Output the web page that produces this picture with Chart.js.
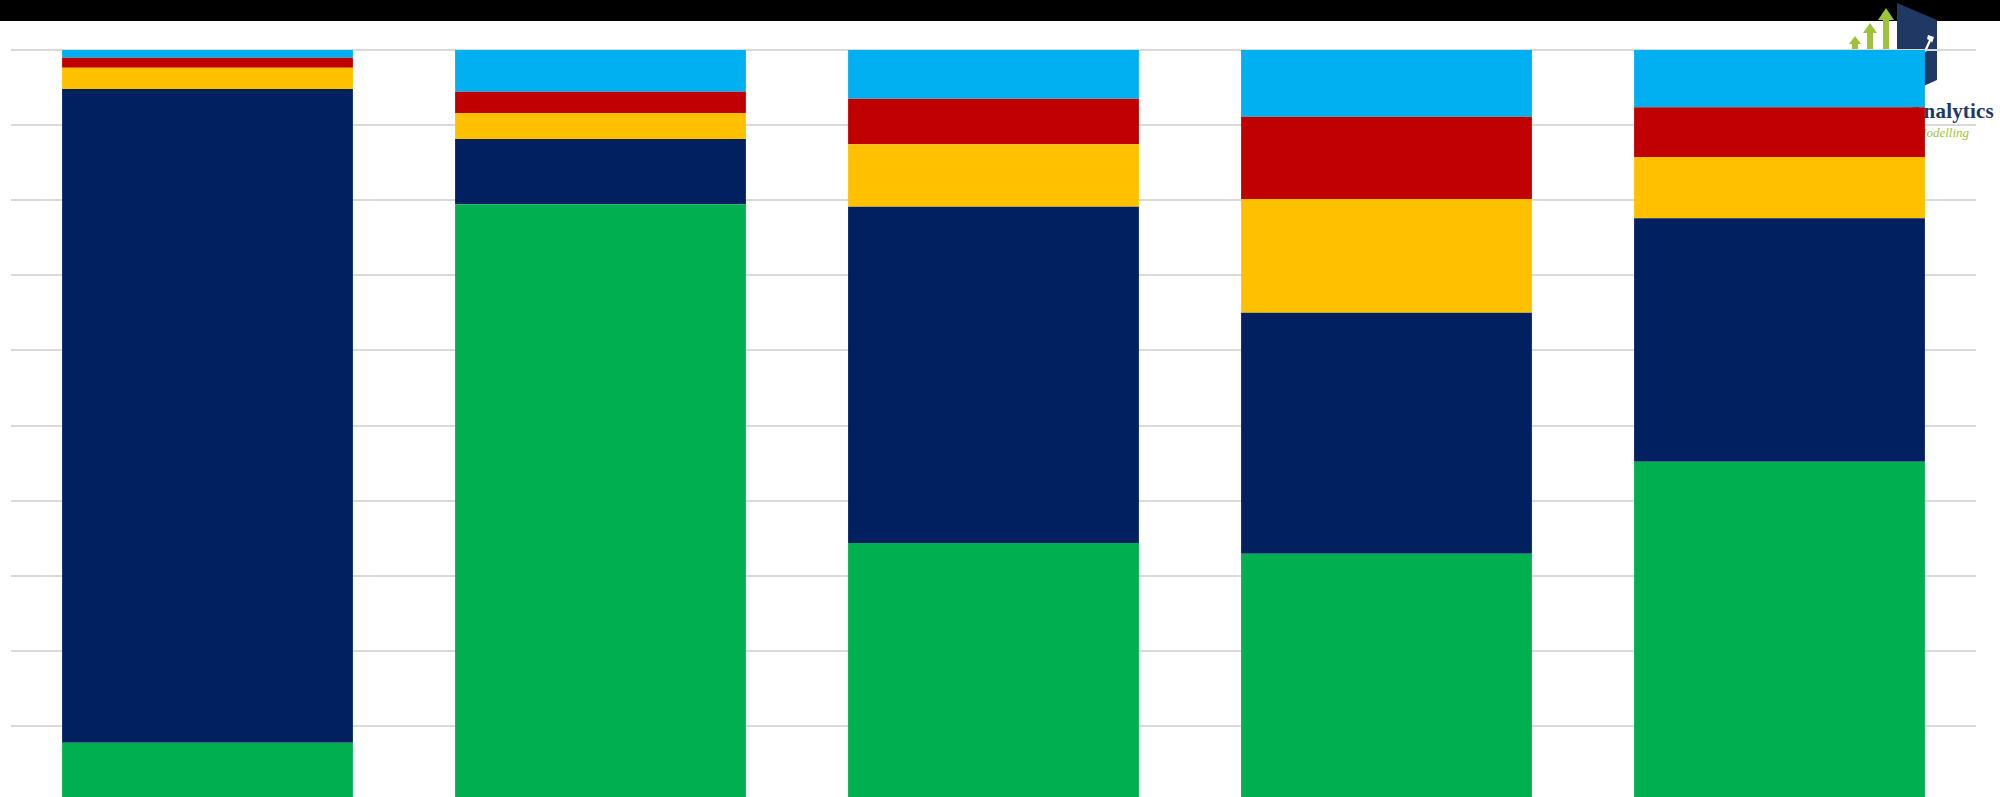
<!DOCTYPE html>
<html>
<head>
<meta charset="utf-8">
<script src="https://cdn.jsdelivr.net/npm/chart.js@4/dist/chart.umd.min.js"></script>
<style>
  html, body { margin: 0; padding: 0; width: 2000px; height: 797px; overflow: hidden; background: #fff; }
  #header { position: absolute; left: 0; top: 0; width: 2000px; height: 21px; background: #000; z-index: 0; }
  #logo { position: absolute; left: 1840px; top: 0; width: 160px; height: 140px; z-index: 1; }
  #logo svg { position: absolute; left: 0; top: 0; }
  #logoText1 { position: absolute; right: 6px; top: 99px; font-family: "Liberation Serif", "DejaVu Serif", serif; font-weight: bold; font-size: 21px; color: #1F3864; letter-spacing: 0.2px; white-space: nowrap; }
  #logoText2 { position: absolute; right: 31px; top: 125px; font-family: "Liberation Serif", serif; font-style: italic; font-size: 13px; color: #9DC33B; white-space: nowrap; }
  #wrap { position: absolute; left: 0; top: 0; z-index: 2; }
</style>
</head>
<body>
<div id="header"></div>
<div id="logo">
  <svg width="160" height="140" viewBox="0 0 160 140">
    <polygon points="15,36 21,44 18,44 18,60 12,60 12,44 9,44" fill="#9DC33B"/>
    <polygon points="30,23 37,33 33,33 33,60 27,60 27,33 23,33" fill="#9DC33B"/>
    <polygon points="46,8 54,20 49,20 49,60 43,60 43,20 38,20" fill="#9DC33B"/>
    <polygon points="57,3 97,20 97,80 57,98" fill="#1F3864"/>
    <polygon points="88,35 94,37 92,43 91,41 86,52 84,51 89,40 87,39" fill="#ffffff"/>
  </svg>
  <div id="logoText1">Analytics</div>
  <div id="logoText2">Modelling</div>
</div>
<div id="wrap"><canvas id="c" width="2000" height="830"></canvas></div>
<script>
const categories = ['1', '2', '3', '4', '5'];
const greenValues  = [7.76, 79.45, 34.35, 32.93, 45.18];
const navyValues   = [87.04, 8.70, 44.78, 32.09, 32.41];
const yellowValues = [2.84, 3.46, 8.31, 15.14, 8.16];
const redValues    = [1.33, 2.84, 6.07, 10.96, 6.62];
const blueValues   = [1.03, 5.55, 6.48, 8.88, 7.63];

const mk = (label, data, color) => ({
  label, data, backgroundColor: color, borderWidth: 0,
  barPercentage: 0.74, categoryPercentage: 1.0
});

new Chart(document.getElementById('c'), {
  type: 'bar',
  data: {
    labels: categories,
    datasets: [
      mk('Green', greenValues, '#00B050'),
      mk('Navy', navyValues, '#002060'),
      mk('Yellow', yellowValues, '#FFC000'),
      mk('Red', redValues, '#C00000'),
      mk('Blue', blueValues, '#00B0F0')
    ]
  },
  options: {
    responsive: false,
    devicePixelRatio: 1,
    animation: false,
    layout: { padding: { left: 11, right: 24, top: 50, bottom: 29 } },
    plugins: { legend: { display: false }, tooltip: { enabled: false } },
    scales: {
      x: { stacked: true, display: false, grid: { display: false } },
      y: {
        stacked: true, min: 0, max: 100,
        ticks: { display: false, stepSize: 10 },
        grid: { color: '#d9d9d9', lineWidth: 2, drawTicks: false },
        border: { display: false }
      }
    }
  }
});
</script>
</body>
</html>
